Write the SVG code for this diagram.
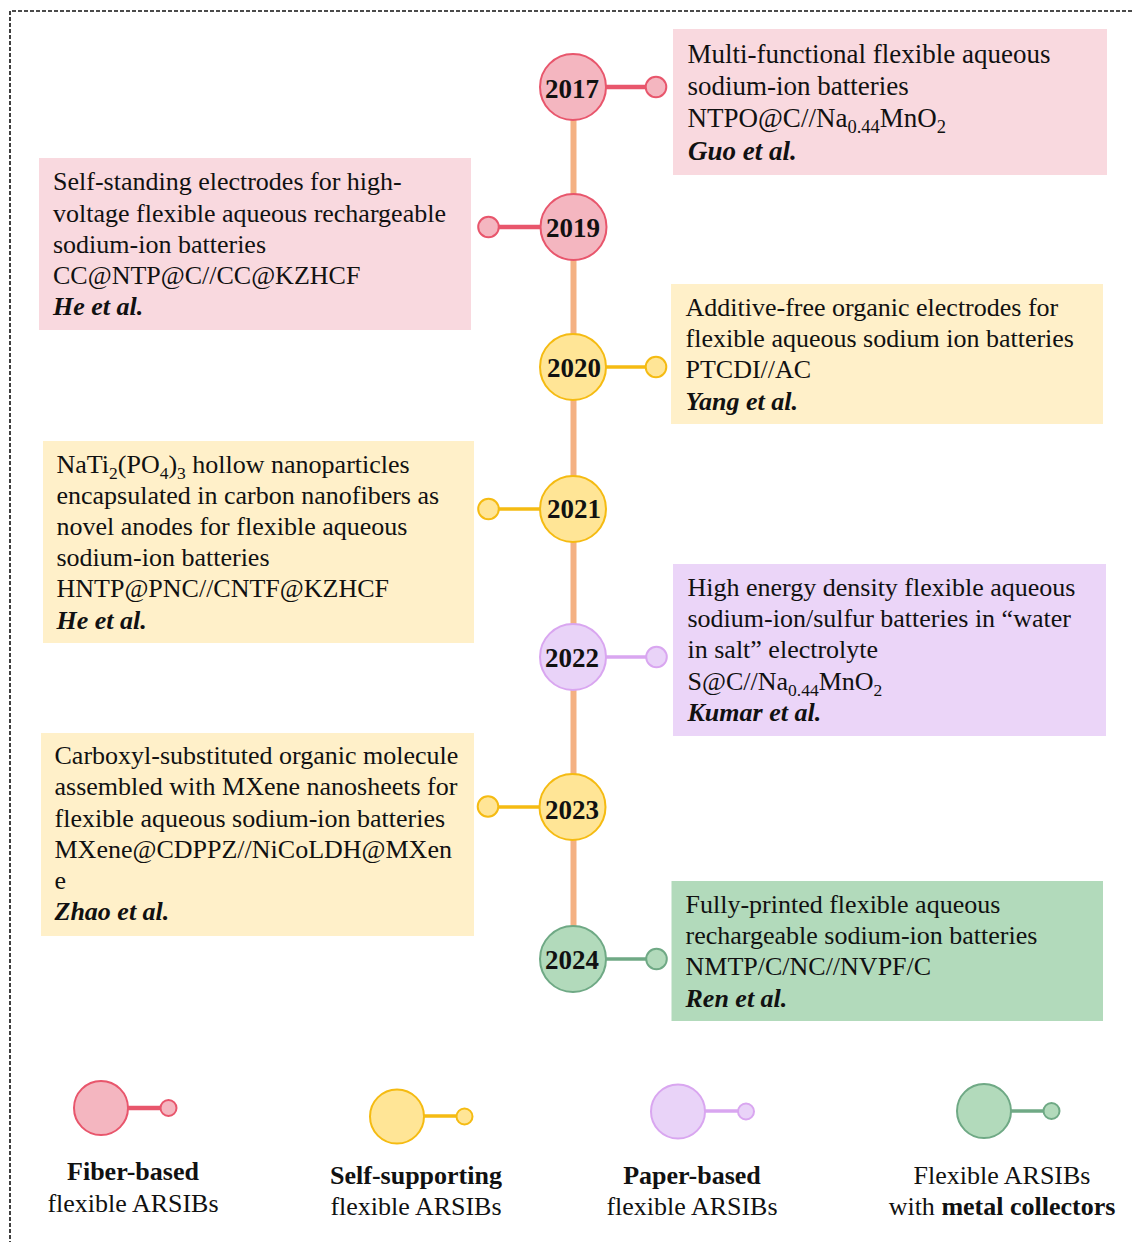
<svg xmlns="http://www.w3.org/2000/svg" width="1132" height="1242" viewBox="0 0 1132 1242">
<style>
text{font-family:"Liberation Serif","Times New Roman",serif;fill:#111}
.t{font-size:26px}
.t27{font-size:27px}
.y{font-size:27px;font-weight:bold;text-anchor:middle}
.b{font-weight:bold}
.a{font-weight:bold;font-style:italic}
.m{text-anchor:middle}
.s{font-size:17.500px}
.s2{font-size:18.500px}
.spine{stroke:#f4b183;stroke-width:6;fill:none}
.frame{stroke:#111;stroke-width:1.600;stroke-dasharray:4 2;fill:none}
.red circle,.red ellipse{fill:#f4b6c0;stroke:#e8566c;stroke-width:2}
.red line{stroke:#e8566c;stroke-width:4.500}
.yel circle,.yel ellipse{fill:#ffe596;stroke:#f5bb12;stroke-width:2}
.yel line{stroke:#f5bb12;stroke-width:3.500}
.pur circle,.pur ellipse{fill:#e9d3f8;stroke:#d9a6f0;stroke-width:2}
.pur line{stroke:#d9a6f0;stroke-width:3.500}
.grn circle,.grn ellipse{fill:#b2dabb;stroke:#6fa985;stroke-width:2}
.grn line{stroke:#6fa985;stroke-width:3.500}
</style>
<g id="frame"><path class="frame" d="M1132 11H10V1242"/></g>
<g id="connectors">
<line class="spine" x1="573.500" y1="120" x2="573.500" y2="926"/>
</g>
<g id="box-2017"><rect x="673" y="29" width="434" height="146" fill="#f9d9df"/>
<text class="t27" x="687.500" y="63">Multi-functional flexible aqueous</text>
<text class="t27" x="687.500" y="95">sodium-ion batteries</text>
<text class="t27" x="687.500" y="127">NTPO@C//Na<tspan class="s2" dy="6">0.44</tspan><tspan dy="-6">MnO</tspan><tspan class="s2" dy="6">2</tspan></text>
<text class="t27 a" x="688" y="160">Guo et al.</text></g>
<g id="box-2019"><rect x="39" y="158" width="432" height="172" fill="#f9d9df"/>
<text class="t" x="53" y="190">Self-standing electrodes for high-</text>
<text class="t" x="53" y="222">voltage flexible aqueous rechargeable</text>
<text class="t" x="53" y="253">sodium-ion batteries</text>
<text class="t" x="53" y="284">CC@NTP@C//CC@KZHCF</text>
<text class="t a" x="53" y="315">He et al.</text></g>
<g id="box-2020"><rect x="671" y="284" width="432" height="140" fill="#fff0c9"/>
<text class="t" x="685.500" y="316">Additive-free organic electrodes for</text>
<text class="t" x="685.500" y="347">flexible aqueous sodium ion batteries</text>
<text class="t" x="685.500" y="378">PTCDI//AC</text>
<text class="t a" x="685.500" y="410">Yang et al.</text></g>
<g id="box-2021"><rect x="43" y="441" width="431" height="202" fill="#fff0c9"/>
<text class="t" x="56.500" y="473">NaTi<tspan class="s" dy="6">2</tspan><tspan dy="-6">(PO</tspan><tspan class="s" dy="6">4</tspan><tspan dy="-6">)</tspan><tspan class="s" dy="6">3</tspan><tspan dy="-6"> hollow nanoparticles</tspan></text>
<text class="t" x="56.500" y="504">encapsulated in carbon nanofibers as</text>
<text class="t" x="56.500" y="535">novel anodes for flexible aqueous</text>
<text class="t" x="56.500" y="566">sodium-ion batteries</text>
<text class="t" x="56.500" y="597">HNTP@PNC//CNTF@KZHCF</text>
<text class="t a" x="56.500" y="629">He et al.</text></g>
<g id="box-2022"><rect x="673" y="564" width="433" height="172" fill="#ebd5f8"/>
<text class="t" x="687.500" y="596">High energy density flexible aqueous</text>
<text class="t" x="687.500" y="627">sodium-ion/sulfur batteries in “water</text>
<text class="t" x="687.500" y="658">in salt” electrolyte</text>
<text class="t" x="687.500" y="690">S@C//Na<tspan class="s" dy="6">0.44</tspan><tspan dy="-6">MnO</tspan><tspan class="s" dy="6">2</tspan></text>
<text class="t a" x="687.500" y="721">Kumar et al.</text></g>
<g id="box-2023"><rect x="41" y="733" width="433" height="203" fill="#fff0c9"/>
<text class="t" x="54.500" y="764">Carboxyl-substituted organic molecule</text>
<text class="t" x="54.500" y="795">assembled with MXene nanosheets for</text>
<text class="t" x="54.500" y="827">flexible aqueous sodium-ion batteries</text>
<text class="t" x="54.500" y="858">MXene@CDPPZ//NiCoLDH@MXen</text>
<text class="t" x="54.500" y="889">e</text>
<text class="t a" x="54.500" y="920">Zhao et al.</text></g>
<g id="box-2024"><rect x="671.500" y="881" width="431.500" height="140" fill="#b2dabb"/>
<text class="t" x="685.500" y="913">Fully-printed flexible aqueous</text>
<text class="t" x="685.500" y="944">rechargeable sodium-ion batteries</text>
<text class="t" x="685.500" y="975">NMTP/C/NC//NVPF/C</text>
<text class="t a" x="685.500" y="1007">Ren et al.</text></g>
<g id="node-2017" class="red"><line x1="606" y1="87" x2="647" y2="87"/><ellipse cx="573" cy="87" rx="33" ry="33"/><circle cx="656" cy="87" r="10.300"/><text class="y" x="572" y="98">2017</text></g>
<g id="node-2019" class="red"><line x1="498" y1="227" x2="541" y2="227"/><ellipse cx="573.500" cy="227" rx="33" ry="33"/><circle cx="488.500" cy="227" r="10.300"/><text class="y" x="573" y="237">2019</text></g>
<g id="node-2020" class="yel"><line x1="606" y1="367" x2="647" y2="367"/><ellipse cx="573" cy="367" rx="33" ry="33"/><circle cx="656" cy="367" r="10.300"/><text class="y" x="574" y="377">2020</text></g>
<g id="node-2021" class="yel"><line x1="498" y1="509" x2="541" y2="509"/><ellipse cx="573" cy="509" rx="33" ry="33"/><circle cx="488.500" cy="509" r="10.300"/><text class="y" x="574" y="518">2021</text></g>
<g id="node-2022" class="pur"><line x1="606" y1="657" x2="647" y2="657"/><ellipse cx="573" cy="657" rx="33" ry="33"/><circle cx="656.500" cy="657" r="10.300"/><text class="y" x="572" y="667">2022</text></g>
<g id="node-2023" class="yel"><line x1="498" y1="807" x2="541" y2="807"/><ellipse cx="572.500" cy="807" rx="33" ry="33"/><circle cx="488" cy="806.500" r="10.300"/><text class="y" x="572" y="819">2023</text></g>
<g id="node-2024" class="grn"><line x1="606" y1="959" x2="647" y2="959"/><ellipse cx="573" cy="959" rx="33" ry="33"/><circle cx="656.500" cy="959" r="10.300"/><text class="y" x="572" y="969">2024</text></g>
<g id="legend-fiber" class="red"><line x1="128" y1="1108" x2="160" y2="1108"/><circle cx="101" cy="1108" r="27"/><circle cx="168.500" cy="1108" r="8"/>
<text class="t b m" x="133" y="1180">Fiber-based</text><text class="t m" x="133" y="1212">flexible ARSIBs</text></g>
<g id="legend-self" class="yel"><line x1="424" y1="1116" x2="457" y2="1116"/><circle cx="397" cy="1116.500" r="27"/><circle cx="464.500" cy="1116.500" r="8"/>
<text class="t b m" x="416" y="1184">Self-supporting</text><text class="t m" x="416" y="1215">flexible ARSIBs</text></g>
<g id="legend-paper" class="pur"><line x1="705" y1="1111" x2="738" y2="1111"/><circle cx="678" cy="1111.500" r="27"/><circle cx="746" cy="1111.500" r="8"/>
<text class="t b m" x="692" y="1184">Paper-based</text><text class="t m" x="692" y="1215">flexible ARSIBs</text></g>
<g id="legend-metal" class="grn"><line x1="1010" y1="1111" x2="1043" y2="1111"/><circle cx="984" cy="1111" r="27"/><circle cx="1051.500" cy="1111" r="8"/>
<text class="t m" x="1002" y="1184">Flexible ARSIBs</text><text class="t m" x="1002" y="1215">with <tspan class="b">metal collectors</tspan></text></g>
</svg>
